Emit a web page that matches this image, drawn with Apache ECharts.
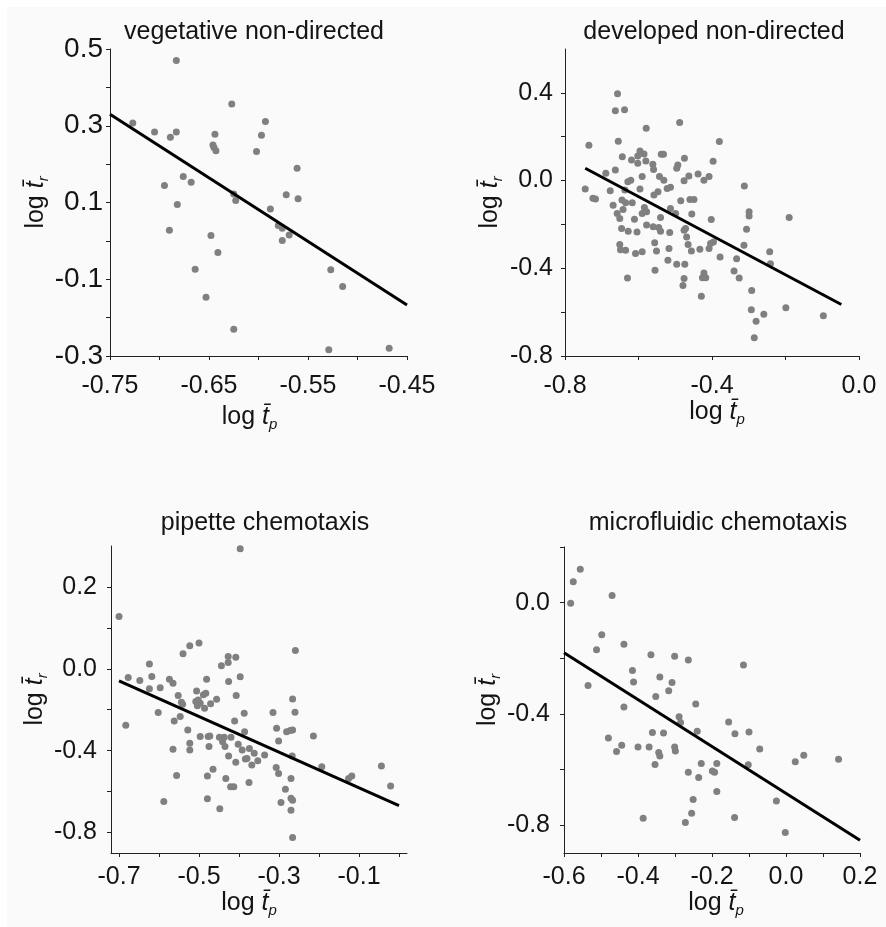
<!DOCTYPE html>
<html>
<head>
<meta charset="utf-8">
<script src="https://cdn.jsdelivr.net/npm/echarts@6/dist/echarts.min.js"></script>
<style>
html,body{margin:0;padding:0;background:#fff;}
#bg{position:absolute;left:7px;top:7px;width:879px;height:920px;background:#fafafa;}
#chart{position:absolute;left:0;top:0;width:886px;height:927px;}
</style>
</head>
<body>
<div id="bg"></div>
<div id="chart"></div>
<script>
// ---------- data ----------
const titles = ['vegetative non-directed', 'developed non-directed', 'pipette chemotaxis', 'microfluidic chemotaxis'];

// vegetative non-directed
const vegX = [-0.727,-0.705,-0.683,-0.683,-0.689,-0.695,-0.676,-0.668,-0.682,-0.690,
  -0.664,-0.653,-0.648,-0.641,-0.644,-0.646,-0.645,-0.643,-0.627,-0.625,
  -0.623,-0.625,-0.602,-0.597,-0.593,-0.588,-0.580,-0.576,-0.576,-0.569,
  -0.572,-0.561,-0.560,-0.527,-0.515,-0.529,-0.468];
const vegY = [0.307,0.284,0.470,0.284,0.270,0.144,0.168,0.153,0.095,0.028,
  -0.074,-0.147,0.014,-0.030,0.278,0.250,0.243,0.235,0.357,0.122,
  0.105,-0.230,0.233,0.275,0.311,0.083,0.040,0.033,0.001,0.015,
  0.120,0.189,0.110,-0.075,-0.119,-0.284,-0.280];
const vegFitX = [-0.75, -0.45];
const vegFitY = [0.330, -0.167];

// developed non-directed
const devX = [-0.657,-0.663,-0.638,-0.579,-0.488,-0.735,-0.655,-0.380,-0.644,-0.619,
  -0.602,-0.596,-0.585,-0.602,-0.580,-0.538,-0.532,-0.561,-0.559,-0.475,
  -0.493,-0.496,-0.397,-0.663,-0.689,-0.590,-0.745,-0.724,-0.717,-0.677,
  -0.637,-0.629,-0.621,-0.596,-0.543,-0.531,-0.522,-0.513,-0.547,-0.558,
  -0.463,-0.438,-0.422,-0.408,-0.485,-0.460,-0.449,-0.476,-0.669,-0.645,
  -0.635,-0.617,-0.658,-0.651,-0.642,-0.611,-0.590,-0.578,-0.584,-0.540,
  -0.513,-0.499,-0.455,-0.646,-0.628,-0.604,-0.578,-0.560,-0.545,-0.540,
  -0.515,-0.476,-0.472,-0.469,-0.651,-0.649,-0.635,-0.608,-0.590,-0.556,
  -0.551,-0.517,-0.465,-0.456,-0.433,-0.408,-0.520,-0.496,-0.474,-0.555,
  -0.476,-0.479,-0.422,-0.417,-0.426,-0.630,-0.429,-0.402,-0.299,-0.299,
  -0.190,-0.306,-0.404,-0.396,-0.313,-0.243,-0.241,-0.378,-0.333,-0.340,
  -0.326,-0.292,-0.293,-0.259,-0.199,-0.280,-0.097,-0.285,-0.312];
const devY = [0.396,0.318,0.323,0.239,0.265,0.161,0.179,0.178,0.109,0.094,
  0.112,0.135,0.121,0.079,0.089,0.120,0.120,0.074,0.051,0.102,
  0.071,0.056,0.088,0.048,0.033,0.018,-0.039,-0.081,-0.084,-0.046,
  -0.043,-0.005,0.002,-0.039,0.018,0.002,-0.036,-0.031,-0.051,-0.066,
  0.021,0.030,0.002,0.018,-0.092,-0.086,-0.086,-0.001,-0.112,-0.089,
  -0.101,-0.101,-0.150,-0.173,-0.132,-0.176,-0.150,-0.142,-0.123,-0.168,
  -0.127,-0.150,-0.153,-0.219,-0.231,-0.234,-0.203,-0.211,-0.214,-0.231,
  -0.237,-0.226,-0.219,-0.257,-0.292,-0.315,-0.318,-0.333,-0.325,-0.283,
  -0.321,-0.310,-0.292,-0.321,-0.313,-0.310,-0.363,-0.382,-0.382,-0.409,
  -0.447,-0.478,-0.421,-0.443,-0.443,-0.444,-0.528,-0.177,-0.142,-0.162,
  -0.168,-0.222,-0.287,-0.280,-0.295,-0.325,-0.379,-0.348,-0.356,-0.412,
  -0.444,-0.501,-0.589,-0.610,-0.580,-0.641,-0.616,-0.717,-0.025];
const devFitX = [-0.745, -0.048];
const devFitY = [0.056, -0.565];

// pipette chemotaxis
const pipX = [-0.700,-0.397,-0.683,-0.677,-0.648,-0.624,-0.618,-0.624,-0.597,-0.602,
  -0.574,-0.565,-0.562,-0.565,-0.556,-0.588,-0.540,-0.523,-0.500,-0.552,
  -0.544,-0.541,-0.547,-0.528,-0.523,-0.523,-0.506,-0.502,-0.508,-0.497,
  -0.504,-0.483,-0.489,-0.481,-0.486,-0.471,-0.456,-0.497,-0.477,-0.473,
  -0.475,-0.465,-0.479,-0.479,-0.448,-0.444,-0.427,-0.427,-0.408,-0.426,
  -0.397,-0.407,-0.411,-0.387,-0.386,-0.449,-0.437,-0.441,-0.435,-0.420,
  -0.402,-0.392,-0.374,-0.362,-0.353,-0.384,-0.380,-0.368,-0.336,-0.426,
  -0.408,-0.433,-0.421,-0.413,-0.375,-0.315,-0.306,-0.301,-0.307,-0.301,
  -0.281,-0.272,-0.266,-0.266,-0.260,-0.259,-0.267,-0.270,-0.284,-0.270,
  -0.266,-0.295,-0.270,-0.266,-0.214,-0.193,-0.126,-0.118,-0.044,-0.021];
const pipY = [0.256,0.586,-0.276,-0.042,-0.057,0.023,-0.038,-0.098,-0.093,-0.214,
  -0.051,-0.070,-0.255,-0.393,-0.521,-0.648,0.073,0.113,0.126,-0.131,
  -0.163,-0.173,-0.233,-0.299,-0.364,-0.397,-0.108,-0.152,-0.160,-0.168,
  -0.181,-0.119,-0.127,-0.051,-0.193,-0.171,-0.149,-0.331,-0.331,-0.328,
  -0.380,-0.491,-0.524,-0.635,-0.684,0.015,0.031,0.060,0.057,-0.062,
  -0.039,-0.131,-0.255,-0.217,-0.307,-0.335,-0.335,-0.356,-0.380,-0.335,
  -0.369,-0.397,-0.389,-0.413,-0.449,-0.441,-0.438,-0.470,-0.421,-0.426,
  -0.457,-0.536,-0.576,-0.576,-0.555,-0.214,-0.291,-0.353,-0.482,-0.511,
  -0.307,-0.302,-0.299,-0.147,-0.212,0.090,-0.426,-0.536,-0.588,-0.633,
  -0.642,-0.653,-0.691,-0.824,-0.328,-0.478,-0.536,-0.524,-0.475,-0.573];
const pipFitX = [-0.70, 0.00];
const pipFitY = [-0.059, -0.669];

// microfluidic chemotaxis
const micX = [-0.582,-0.575,-0.556,-0.470,-0.498,-0.512,-0.438,-0.535,-0.415,-0.412,
  -0.438,-0.480,-0.458,-0.444,-0.400,-0.386,-0.365,-0.352,-0.341,-0.361,
  -0.331,-0.370,-0.344,-0.341,-0.354,-0.301,-0.308,-0.317,-0.289,-0.285,
  -0.301,-0.299,-0.264,-0.244,-0.240,-0.229,-0.264,-0.236,-0.251,-0.255,
  -0.272,-0.199,-0.193,-0.187,-0.187,-0.155,-0.138,-0.139,-0.115,-0.100,
  -0.102,-0.071,-0.026,-0.002,0.025,0.048,0.142];
const micY = [-0.002,0.075,0.120,0.026,-0.115,-0.169,-0.150,-0.298,-0.244,-0.285,
  -0.375,-0.487,-0.535,-0.513,-0.519,-0.775,-0.187,-0.337,-0.267,-0.467,
  -0.469,-0.519,-0.539,-0.551,-0.582,-0.193,-0.287,-0.317,-0.410,-0.431,
  -0.519,-0.533,-0.206,-0.364,-0.462,-0.578,-0.610,-0.629,-0.708,-0.757,
  -0.790,-0.605,-0.610,-0.578,-0.679,-0.429,-0.471,-0.772,-0.224,-0.465,
  -0.583,-0.526,-0.713,-0.826,-0.572,-0.549,-0.563];
const micFitX = [-0.60, 0.20];
const micFitY = [-0.180, -0.854];

// axis ticks and tick labels
const vegXTicks = [-0.75,-0.70,-0.65,-0.60,-0.55,-0.50,-0.45];
const vegXLabelVals = [-0.75,-0.65,-0.55,-0.45];
const vegXLabels = ['-0.75','-0.65','-0.55','-0.45'];
const vegYTicks = [-0.3,-0.2,-0.1,0,0.1,0.2,0.3,0.4,0.5];
const vegYLabelVals = [-0.3,-0.1,0.1,0.3,0.5];
const vegYLabels = ['-0.3','-0.1','0.1','0.3','0.5'];

const devXTicks = [-0.8,-0.6,-0.4,-0.2,0];
const devXLabelVals = [-0.8,-0.4,0];
const devXLabels = ['-0.8','-0.4','0.0'];
const devYTicks = [-0.8,-0.6,-0.4,-0.2,0,0.2,0.4];
const devYLabelVals = [-0.8,-0.4,0,0.4];
const devYLabels = ['-0.8','-0.4','0.0','0.4'];

const pipXTicks = [-0.7,-0.6,-0.5,-0.4,-0.3,-0.2,-0.1,0];
const pipXLabelVals = [-0.7,-0.5,-0.3,-0.1];
const pipXLabels = ['-0.7','-0.5','-0.3','-0.1'];
const pipYTicks = [-0.8,-0.6,-0.4,-0.2,0,0.2,0.4];
const pipYLabelVals = [-0.8,-0.4,0,0.4];
const pipYLabels = ['-0.8','-0.4','0.0','0.2'];

const micXTicks = [-0.6,-0.5,-0.4,-0.3,-0.2,-0.1,0,0.1,0.2];
const micXLabelVals = [-0.6,-0.4,-0.2,0,0.2];
const micXLabels = ['-0.6','-0.4','-0.2','0.0','0.2'];
const micYTicks = [-0.8,-0.6,-0.4,-0.2,0,0.2];
const micYLabelVals = [-0.8,-0.4,0];
const micYLabels = ['-0.8','-0.4','0.0'];

// ---------- layout / style ----------
const FONT = "'Liberation Sans', Arial, Helvetica, sans-serif";
const TXT = '#141414';
const FS = 25;

const panels = [
  {x: vegX, y: vegY, fx: vegFitX, fy: vegFitY,
   xt: vegXTicks, xlv: vegXLabelVals, xl: vegXLabels, yt: vegYTicks, ylv: vegYLabelVals, yl: vegYLabels,
   grid: {left: 110, top: 49, width: 297, height: 307}, xr: [-0.75, -0.45], yr: [-0.3, 0.5],
   title: [254, 32], xm: 18, ym: 7, yfs: 28, xg: 46, yg: 55, xpad: [0, 18, 0, 0]},
  {x: devX, y: devY, fx: devFitX, fy: devFitY,
   xt: devXTicks, xlv: devXLabelVals, xl: devXLabels, yt: devYTicks, ylv: devYLabelVals, yl: devYLabels,
   grid: {left: 565, top: 49, width: 294, height: 307}, xr: [-0.8, 0.0], yr: [-0.8, 0.6],
   title: [714, 32], xm: 18, ym: 12, yfs: 25, xg: 40, yg: 60, xpad: [0, 0, 0, 10]},
  {x: pipX, y: pipY, fx: pipFitX, fy: pipFitY,
   xt: pipXTicks, xlv: pipXLabelVals, xl: pipXLabels, yt: pipYTicks, ylv: pipYLabelVals, yl: pipYLabels,
   grid: {left: 111, top: 546, width: 296, height: 307}, xr: [-0.72, 0.02], yr: [-0.9, 0.6],
   title: [265, 523], xm: 12, ym: 14, yfs: 25, xg: 27, yg: 56, xpad: [0, 20, 0, 0]},
  {x: micX, y: micY, fx: micFitX, fy: micFitY,
   xt: micXTicks, xlv: micXLabelVals, xl: micXLabels, yt: micYTicks, ylv: micYLabelVals, yl: micYLabels,
   grid: {left: 564, top: 547, width: 296, height: 306}, xr: [-0.6, 0.2], yr: [-0.9, 0.2],
   title: [718, 523], xm: 12, ym: 14, yfs: 25, xg: 27, yg: 58, xpad: [0, 0, 0, 8]}
];

function fmt(vals, labels) {
  return function (v) {
    const k = vals.findIndex(t => Math.abs(t - v) < 1e-6);
    return k >= 0 ? labels[k] : '';
  };
}

function nameRich() {
  return {
    a: {fontSize: FS, fontFamily: FONT, color: TXT, lineHeight: 30},
    b: {fontSize: FS, fontFamily: FONT, color: TXT, fontStyle: 'italic', lineHeight: 30},
    c: {fontSize: 15, fontFamily: FONT, color: TXT, fontStyle: 'italic', lineHeight: 14, verticalAlign: 'bottom'}
  };
}

function axis(p, dim) {
  const isX = dim === 'x';
  return {
    type: 'value',
    gridIndex: p.i,
    min: isX ? p.xr[0] : p.yr[0],
    max: isX ? p.xr[1] : p.yr[1],
    axisLine: {show: true, onZero: false, lineStyle: {color: '#222', width: 1}},
    axisTick: {show: true, length: 4, customValues: isX ? p.xt : p.yt, lineStyle: {color: '#222', width: 1}},
    axisLabel: {
      customValues: isX ? p.xlv : p.ylv,
      formatter: isX ? fmt(p.xlv, p.xl) : fmt(p.ylv, p.yl),
      margin: isX ? p.xm : p.ym,
      fontSize: isX ? FS : p.yfs, fontFamily: FONT, color: TXT
    },
    splitLine: {show: false},
    name: isX ? '{a|log }{b|t\u0304}{c|p}' : '{a|log }{b|t\u0304}{c|r}',
    nameLocation: 'middle',
    nameGap: isX ? p.xg : p.yg,
    nameTextStyle: Object.assign({fontSize: FS, fontFamily: FONT, color: TXT, rich: nameRich()},
      isX ? {padding: p.xpad} : {})
  };
}

panels.forEach((p, i) => p.i = i);

const option = {
  animation: false,
  backgroundColor: 'transparent',
  grid: panels.map(p => Object.assign({containLabel: false}, p.grid)),
  xAxis: panels.map(p => axis(p, 'x')),
  yAxis: panels.map(p => axis(p, 'y')),
  graphic: panels.map((p, i) => ({
    type: 'text', x: p.title[0], y: p.title[1], silent: true,
    style: {text: titles[i], fontSize: FS, fontFamily: FONT, fill: TXT, textAlign: 'center', textVerticalAlign: 'middle'}
  })),
  series: panels.flatMap((p, i) => [
    {type: 'scatter', xAxisIndex: i, yAxisIndex: i, symbolSize: 7,
     itemStyle: {color: '#808080', opacity: 1}, z: 2,
     data: p.x.map((v, k) => [v, p.y[k]])},
    {type: 'line', xAxisIndex: i, yAxisIndex: i, showSymbol: false, symbol: 'none', z: 3,
     lineStyle: {color: '#000', width: 3}, data: p.fx.map((v, k) => [v, p.fy[k]])}
  ])
};

const chart = echarts.init(document.getElementById('chart'), null, {renderer: 'canvas'});
chart.setOption(option);
</script>
</body>
</html>
